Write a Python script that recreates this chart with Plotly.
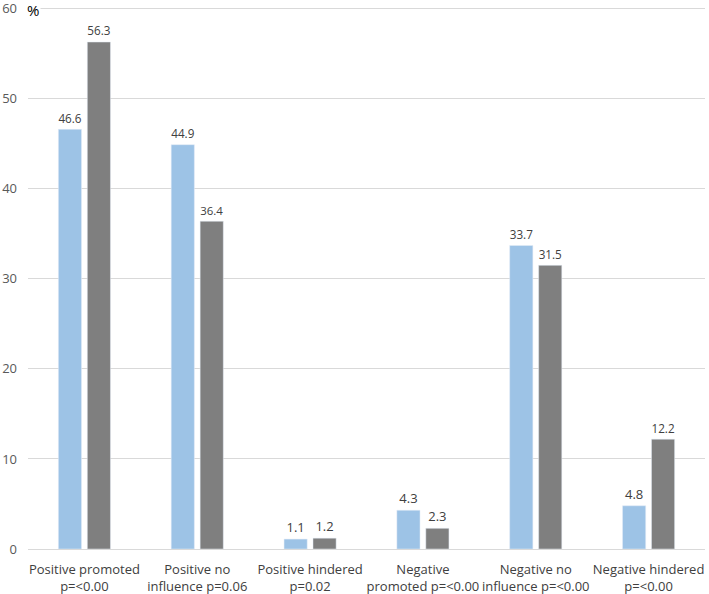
import plotly.graph_objects as go

categories = ["Positive promoted<br>p=<0.00", "Positive no<br>influence p=0.06", "Positive hindered<br>p=0.02",
              "Negative<br>promoted p=<0.00", "Negative no<br>influence p=<0.00", "Negative hindered<br>p=<0.00"]
series_a = [46.6, 44.9, 1.1, 4.3, 33.7, 4.8]
series_b = [56.3, 36.4, 1.2, 2.3, 31.5, 12.2]
y_ticks = [0, 10, 20, 30, 40, 50, 60]

fig = go.Figure()
fig.add_trace(go.Bar(x=categories, y=series_a, marker_color="#9DC3E6", text=[f"{v:.1f}" for v in series_a],
                     textposition="outside", cliponaxis=False, textfont=dict(size=13, color="#404040")))
fig.add_trace(go.Bar(x=categories, y=series_b, marker_color="#7F7F7F", text=[f"{v:.1f}" for v in series_b],
                     textposition="outside", cliponaxis=False, textfont=dict(size=13, color="#404040")))

fig.update_layout(
    width=709, height=594,
    margin=dict(l=28, r=4, t=6, b=45),
    barmode="group", bargap=0.487, bargroupgap=0.2,
    showlegend=False,
    plot_bgcolor="white", paper_bgcolor="white",
    font=dict(family="Open Sans, sans-serif", size=13, color="#404040"),
    uniformtext=dict(mode=False),
)
fig.update_yaxes(range=[0, 60.3], tickvals=y_ticks, gridcolor="#D9D9D9", gridwidth=1, zeroline=False,
                 showline=False, ticks="", ticklabelstandoff=10, automargin=False, ticklabeloverflow="allow",
                 tickfont=dict(size=13, color="#595959"))
fig.update_xaxes(showline=True, linecolor="#D9D9D9", linewidth=1, ticks="", automargin=False,
                 ticklabelstandoff=8, tickfont=dict(size=13, color="#404040"))
fig.add_annotation(text="%", xref="paper", yref="y", x=0.0, y=60, xanchor="left", yanchor="middle",
                   xshift=-3, yshift=-1, showarrow=False, bgcolor="white", font=dict(size=15, color="black"))
fig.write_html("out.html", config={"displayModeBar": False},
               post_script="document.body.style.margin='0';document.body.style.padding='0';")
